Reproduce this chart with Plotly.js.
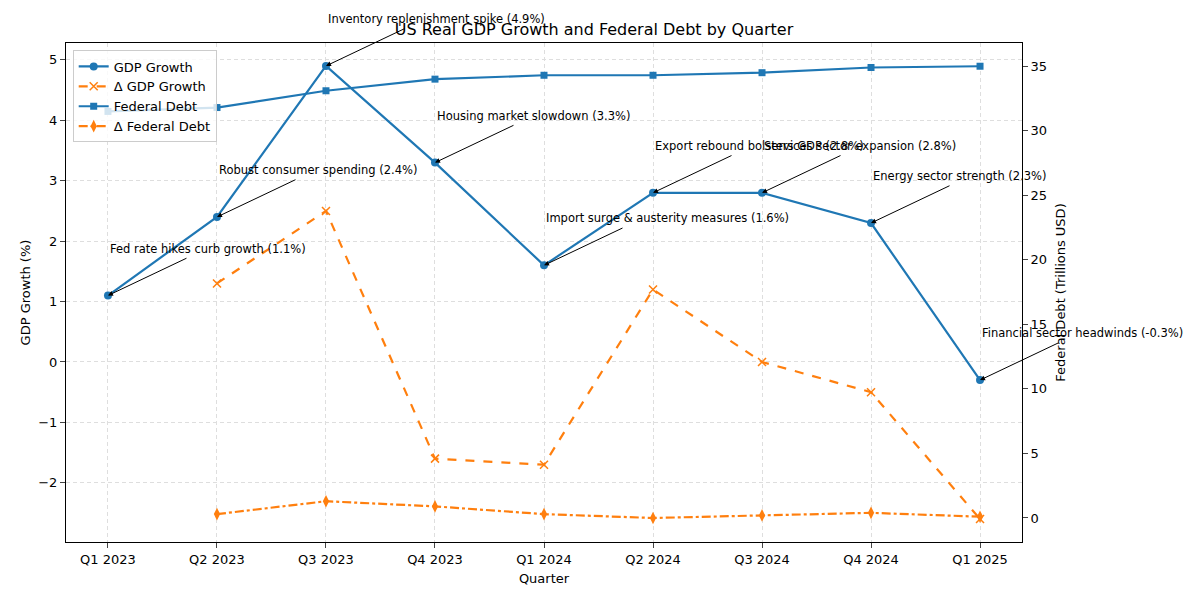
<!DOCTYPE html>
<html><head><meta charset="utf-8">
<script src="https://cdn.plot.ly/plotly-3.0.1.min.js"></script>
<style>body{margin:0}</style></head>
<body><div id="c" style="width:1200px;height:600px"></div>
<script>
const quarters = ["Q1 2023","Q2 2023","Q3 2023","Q4 2023","Q1 2024","Q2 2024","Q3 2024","Q4 2024","Q1 2025"];
const gdpGrowth = [1.1,2.4,4.9,3.3,1.6,2.8,2.8,2.3,-0.3];
const gdpDelta = [null,1.3,2.5,-1.6,-1.7,1.2,0.0,-0.5,-2.6];
const federalDebt = [31.5,31.8,33.1,34.0,34.3,34.3,34.5,34.9,35.0];
const debtDelta = [null,0.3,1.3,0.9,0.3,0.0,0.2,0.4,0.1];
const notes = ["Fed rate hikes curb growth","Robust consumer spending","Inventory replenishment spike","Housing market slowdown","Import surge & austerity measures","Export rebound bolsters GDP","Services sector expansion","Energy sector strength","Financial sector headwinds"];
const blue="#1f77b4", orange="#ff7f0e";
const font={family:"DejaVu Sans",size:13,color:"#000"};
const traces=[
 {x:quarters,y:gdpGrowth,name:"GDP Growth",mode:"lines+markers",line:{color:blue,width:2.2},marker:{symbol:"circle",size:8,color:blue}},
 {x:quarters,y:gdpDelta,name:"Δ GDP Growth",mode:"lines+markers",line:{color:orange,width:2.2,dash:"dash"},marker:{symbol:"x-thin-open",size:8,color:orange,line:{color:orange,width:1.5}}},
 {x:quarters,y:federalDebt,name:"Federal Debt",yaxis:"y2",mode:"lines+markers",line:{color:blue,width:2.2},marker:{symbol:"square",size:7,color:blue}},
 {x:quarters,y:debtDelta,name:"Δ Federal Debt",yaxis:"y2",mode:"lines+markers",line:{color:orange,width:2.2,dash:"dashdot"},marker:{symbol:"diamond-tall",size:9,color:orange}}
];
const ann=[];
quarters.forEach((q,i)=>{
  const t=notes[i]+" ("+gdpGrowth[i].toFixed(1)+"%)";
  ann.push({x:q,y:gdpGrowth[i],xref:"x",yref:"y",text:"",showarrow:true,arrowhead:2,arrowsize:1,arrowwidth:1,arrowcolor:"#000",ax:80,ay:-38});
  ann.push({x:q,y:gdpGrowth[i],xref:"x",yref:"y",text:t,showarrow:false,xanchor:"left",yanchor:"bottom",yshift:38,font:{family:"DejaVu Sans",size:11.5,color:"#000"}});
});
const layout={
 width:1200,height:600,paper_bgcolor:"#fff",plot_bgcolor:"#fff",font:font,
 margin:{l:66,r:178,t:43,b:58},
 title:{text:"US Real GDP Growth and Federal Debt by Quarter",x:0.495,xanchor:"center",y:0.96,font:{family:"DejaVu Sans",size:16}},
 xaxis:{title:{text:"Quarter",font:font,standoff:8},range:[-0.385,8.385],showline:true,mirror:true,linecolor:"#000",ticks:"outside",showgrid:true,gridcolor:"#dedede",griddash:"4px,3px",zeroline:false},
 yaxis:{title:{text:"GDP Growth (%)",font:font},range:[-2.98,5.28],showline:true,linecolor:"#000",ticks:"outside",showgrid:true,gridcolor:"#dedede",griddash:"4px,3px",zeroline:false,
   tickvals:[-2,-1,0,1,2,3,4,5],ticktext:["−2","−1","0","1","2","3","4","5"]},
 yaxis2:{title:{text:"Federal Debt (Trillions USD)",font:font},overlaying:"y",side:"right",range:[-1.86,36.8],dtick:5,showline:true,linecolor:"#000",ticks:"outside",showgrid:false,zeroline:false},
 legend:{x:0.007,y:0.985,xanchor:"left",yanchor:"top",bgcolor:"rgba(255,255,255,0.8)",bordercolor:"#ccc",borderwidth:1,font:font},
 annotations:ann,showlegend:true
};
Plotly.newPlot("c",traces,layout,{displayModeBar:false});
</script></body></html>
